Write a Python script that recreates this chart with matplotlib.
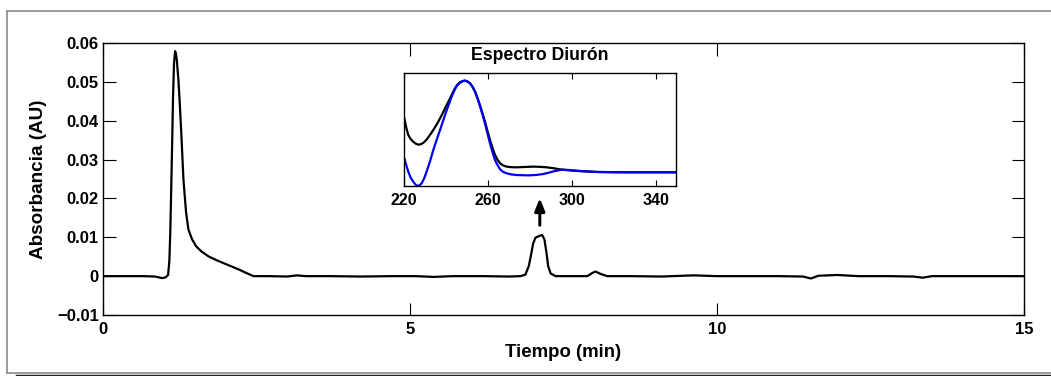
import matplotlib
matplotlib.use("Agg")
import matplotlib.pyplot as plt
from matplotlib.lines import Line2D
from matplotlib.ticker import FixedLocator, FuncFormatter

plt.rcParams['font.family'] = ['Liberation Sans', 'DejaVu Sans']
plt.rcParams['font.weight'] = 'bold'

# Chromatogram (time in min, absorbance in AU)
tiempo = [0.0, 0.3, 0.65, 0.85, 0.93, 0.97, 1.02, 1.06, 1.081, 1.097, 1.12, 1.141,
          1.157, 1.174, 1.188, 1.201, 1.228, 1.244, 1.272, 1.31, 1.353, 1.391,
          1.45, 1.516, 1.6, 1.717, 1.85, 2.016, 2.2, 2.35, 2.451, 2.7, 3.0, 3.16,
          3.3, 3.7, 4.2, 4.7, 5.1, 5.38, 5.7, 6.2, 6.6, 6.8, 6.88, 6.935, 6.973,
          7.006, 7.044, 7.098, 7.153, 7.19, 7.223, 7.25, 7.29, 7.37, 7.6, 7.887,
          7.968, 8.02, 8.1, 8.21, 8.6, 9.1, 9.62, 10.0, 10.5, 11.0, 11.4, 11.53,
          11.65, 11.96, 12.3, 12.8, 13.2, 13.35, 13.5, 14.0, 14.5, 15.0]
absorbancia = [0.0, 0.0, 0.0, -0.0001, -0.0004, -0.0005, -0.0003, 0.0003, 0.004,
               0.012, 0.0292, 0.0463, 0.0549, 0.0579, 0.0572, 0.0558, 0.0506,
               0.0463, 0.0378, 0.0249, 0.0164, 0.012, 0.0095, 0.0077, 0.0064,
               0.0051, 0.0041, 0.003, 0.0018, 0.0007, 0.0, 0.0, -0.0001, 0.0002,
               0.0, 0.0, -0.0001, 0.0, 0.0, -0.0002, 0.0, 0.0, -0.0001, 0.0,
               0.0004, 0.0026, 0.0056, 0.0084, 0.0099, 0.0103, 0.0106, 0.0094,
               0.006, 0.0026, 0.0007, 0.0, 0.0, 0.0, 0.0008, 0.0012, 0.0006, 0.0,
               0.0, -0.0001, 0.0002, 0.0, 0.0, 0.0, -0.0001, -0.0006, 0.0001,
               0.0003, 0.0, 0.0, -0.0001, -0.0004, 0.0, 0.0, 0.0, 0.0]

# UV spectra of the peak at 7.1 min (normalised absorbance)
longitud_onda = [220, 221.0, 221.9, 223.0, 224.3, 225.5, 226.7, 227.8, 229.0,
                 230.5, 232.2, 234.2, 236.2, 238.2, 240.2, 242.2, 244.1, 245.3,
                 246.5, 247.7, 248.9, 250.1, 251.3, 252.5, 253.7, 254.8, 256.0,
                 257.2, 258.4, 259.6, 260.8, 262.0, 263.2, 264.4, 265.6, 266.9,
                 268.7, 271.0, 273.5, 277.5, 281.4, 284.6, 287.8, 291.0, 294.1,
                 297.3, 300.5, 306.0, 311.6, 319.5, 327.5, 338.0, 349.2]
espectro_pico = [0.597, 0.51, 0.45, 0.415, 0.39, 0.373, 0.365, 0.368, 0.38,
                 0.407, 0.45, 0.506, 0.568, 0.64, 0.715, 0.79, 0.862, 0.894,
                 0.915, 0.926, 0.93, 0.922, 0.906, 0.875, 0.832, 0.78, 0.715,
                 0.643, 0.568, 0.485, 0.406, 0.335, 0.274, 0.232, 0.2, 0.183,
                 0.171, 0.166, 0.165, 0.168, 0.171, 0.169, 0.165, 0.157, 0.147,
                 0.14, 0.135, 0.129, 0.124, 0.122, 0.121, 0.121, 0.121]

longitud_onda_ref = [220, 221.0, 221.9, 223.0, 224.3, 225.3, 226.3, 227.3,
                     228.3, 229.5, 230.6, 232.2, 233.8, 235.4, 237.0, 238.6,
                     240.2, 241.4, 242.5, 243.7, 244.9, 246.1, 247.3, 248.1,
                     248.9, 250.1, 251.3, 252.5, 253.7, 254.8, 256.0, 257.2,
                     258.4, 259.6, 260.8, 262.0, 263.2, 264.4, 265.6, 267.0,
                     268.7, 271.0, 273.5, 276.5, 279.8, 283.0, 286.2, 288.6,
                     291.0, 294.9, 298.9, 303.7, 311.6, 319.5, 327.5, 338.0,
                     349.2]
espectro_ref = [0.244, 0.18, 0.126, 0.075, 0.038, 0.012, 0.0, 0.008, 0.024,
                0.07, 0.126, 0.215, 0.318, 0.407, 0.494, 0.583, 0.67, 0.73,
                0.788, 0.838, 0.882, 0.906, 0.92, 0.927, 0.93, 0.922, 0.906,
                0.875, 0.832, 0.775, 0.706, 0.632, 0.553, 0.464, 0.376, 0.297,
                0.229, 0.184, 0.147, 0.125, 0.112, 0.102, 0.097, 0.095, 0.094,
                0.098, 0.106, 0.117, 0.129, 0.144, 0.141, 0.132, 0.124, 0.122,
                0.121, 0.121, 0.121]

x_ticks = [0, 5, 10, 15]
y_ticks = [-0.01, 0.0, 0.01, 0.02, 0.03, 0.04, 0.05, 0.06]
inset_ticks = [220, 260, 300, 340]

W, H = 1051, 376
fig = plt.figure(figsize=(W / 100, H / 100), dpi=100)

# Outer frame around the figure
gray = '#8a8a8a'
def px_line(xs, ys, **kw):
    fig.add_artist(Line2D([x / W for x in xs], [1 - y / H for y in ys],
                          transform=fig.transFigure, **kw))
px_line([7, W], [11, 11], color=gray, lw=1.2)
px_line([7, 7], [11, 373], color=gray, lw=1.2)
px_line([7, W], [373, 373], color=gray, lw=1.2)
px_line([17, W], [375.5, 375.5], color='#222222', lw=2.5)

ax = fig.add_axes([103 / W, 1 - 315 / H, 921 / W, 272 / H])
ax.plot(tiempo, absorbancia, color='black', lw=1.6)
ax.set_xlim(0, 15)
ax.set_ylim(-0.01, 0.06)
ax.xaxis.set_major_locator(FixedLocator(x_ticks))
ax.yaxis.set_major_locator(FixedLocator(y_ticks))

def yfmt(v, pos):
    if abs(v) < 1e-12:
        return '0'
    s = f'{abs(v):.2f}'
    return ('\u2212' + s) if v < 0 else s

ax.yaxis.set_major_formatter(FuncFormatter(yfmt))
ax.tick_params(direction='in', length=9, width=0.8, top=True, right=True,
               labelsize=12, colors='black')
ax.tick_params(axis='x', pad=5)
ax.tick_params(axis='y', pad=3)
for lbl in ax.get_xticklabels() + ax.get_yticklabels():
    lbl.set_fontweight('bold')
for s in ax.spines.values():
    s.set_linewidth(1.0)
ax.set_xlabel('Tiempo (min)', fontsize=13.4, fontweight='bold', labelpad=5)
ax.set_ylabel('Absorbancia (AU)', fontsize=13.6, fontweight='bold', labelpad=7)

# Arrow pointing at the diuron peak
ax.annotate('', xy=(7.114, 0.0208), xytext=(7.114, 0.0124),
            arrowprops=dict(arrowstyle='-|>,head_width=0.3,head_length=0.75',
                            color='black', lw=2.2))

# Inset with the UV spectra
axi = fig.add_axes([404.3 / W, 1 - 186 / H, 271.4 / W, 113.3 / H])
axi.plot(longitud_onda, espectro_pico, color='black', lw=1.6)
axi.plot(longitud_onda_ref, espectro_ref, color='#0000ee', lw=1.6)
axi.set_xlim(220, 349.2)
axi.set_ylim(0, 1)
axi.xaxis.set_major_locator(FixedLocator(inset_ticks))
axi.set_yticks([])
axi.tick_params(direction='in', length=4, width=0.8, top=True, labelsize=11.5,
                pad=5)
for lbl in axi.get_xticklabels():
    lbl.set_fontweight('bold')
for s in axi.spines.values():
    s.set_linewidth(1.0)
axi.set_title('Espectro Diurón', fontsize=12.7, fontweight='bold', pad=9)

fig.savefig('out.png', dpi=100)
